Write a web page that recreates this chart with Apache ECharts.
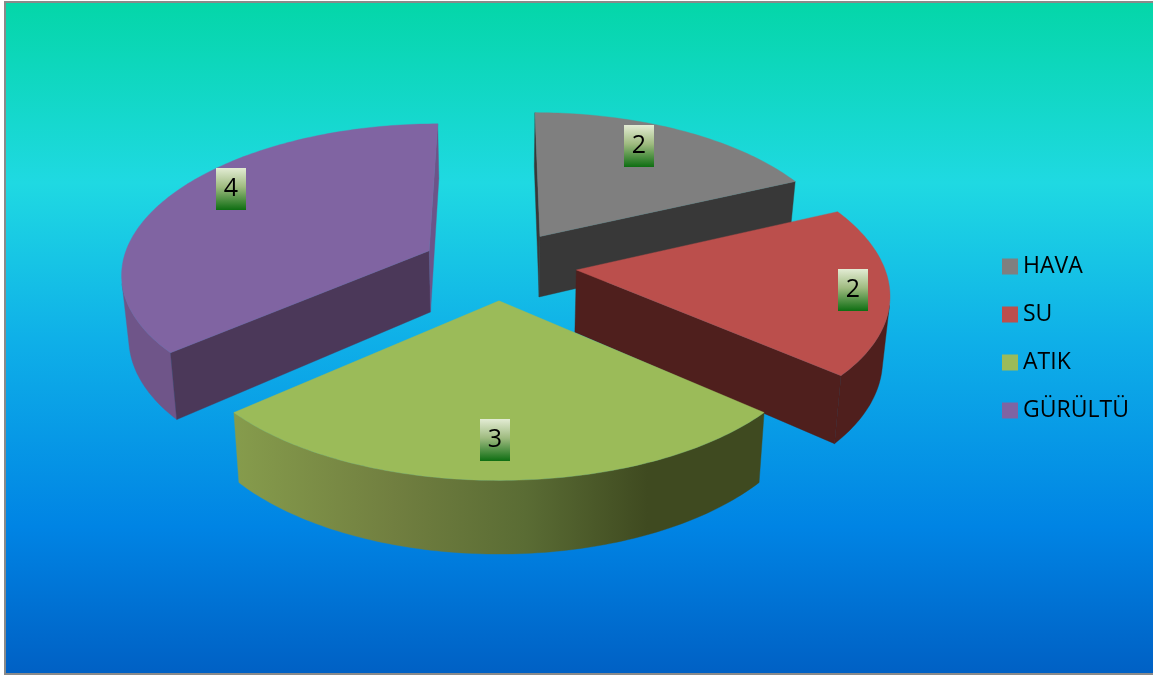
<!DOCTYPE html>
<html>
<head>
<meta charset="utf-8">
<script src="https://cdn.jsdelivr.net/npm/echarts@6/dist/echarts.min.js"></script>
<style>
  html, body { margin: 0; padding: 0; background: #fff; }
  #chart { width: 1153px; height: 675px; }
</style>
</head>
<body>
<div id="chart"></div>
<script>
// Values of the pie
const categories = ['HAVA', 'SU', 'ATIK', 'GÜRÜLTÜ'];
const values = [2, 2, 3, 4];

// Slice colours: top face, cut faces, rim
const topColors = ['#7f7f7f', '#bb4f4c', '#9bbb59', '#8064a2'];
const startCutColors = ['#383838', '#4f1f1d', '#3f4a20', '#4b3859'];
const endCutColors = ['#383838', '#4f1f1d', '#3f4a20', '#6c5489'];
const rimColors = ['#383838', '#4f1f1d', null, '#6f5589'];
const labelRadius = [0.803, 0.883, 0.8, 0.845];
const labelTurn = [-4.8, 0.6, 0.8, 8.3];
const stacking = [1, 2, 4, 3];

// Perspective camera for the tilted, exploded disc
const cam = { cx: 499, horizon: -880, span: 1145, k: 0.128, R: 307.4, widen: 1.09, explodeX: 0.253, explodeY: 0.237, depth: 62, taper: 0.981 };
const total = values.reduce((a, b) => a + b, 0);
const toRad = d => d * Math.PI / 180;

function project(x, y, down) {
  const s = 1 / (1 + cam.k * y);
  let sx = cam.cx + x * cam.R * Math.pow(s, cam.widen);
  let sy = cam.horizon + cam.span * s;
  if (down) {
    sx = cam.cx + (sx - cam.cx) * cam.taper;
    sy += cam.depth * s;
  }
  return [sx, sy];
}

function quadArea(p) {
  let a = 0;
  for (let i = 0; i < p.length; i++) {
    const q = p[(i + 1) % p.length];
    a += p[i][0] * q[1] - q[0] * p[i][1];
  }
  return a;
}

function sliceShapes(index, value) {
  const before = values.slice(0, index).reduce((a, b) => a + b, 0);
  const a0 = before / total * 360;
  const a1 = a0 + value / total * 360;
  const midDeg = (a0 + a1) / 2;
  const mid = toRad(midDeg);
  const ox = Math.sin(mid) * cam.explodeX;
  const oy = Math.cos(mid) * cam.explodeY;
  const rimPoint = (deg, down) => project(ox + Math.sin(toRad(deg)), oy + Math.cos(toRad(deg)), down);
  const tipTop = project(ox, oy, false);
  const tipBot = project(ox, oy, true);

  const children = [];
  const poly = (points, fill) => children.push({
    type: 'polygon',
    shape: { points },
    style: { fill, stroke: fill, lineWidth: 0.4 }
  });

  // Rim: only the runs of the arc that face the viewer
  const step = 1;
  let run = [];
  const flush = () => {
    if (run.length > 1) {
      const pts = run.map(d => rimPoint(d, false)).concat(run.slice().reverse().map(d => rimPoint(d, true)));
      const fill = rimColors[index] || new echarts.graphic.LinearGradient(0, 0, 1, 0, [
        { offset: 0, color: '#869c4c' },
        { offset: 0.3, color: '#717f40' },
        { offset: 0.55, color: '#5a6c34' },
        { offset: 0.78, color: '#3f4a20' },
        { offset: 1, color: '#3f4a20' }
      ]);
      poly(pts, fill);
    }
    run = [];
  };
  for (let d = a0; d < a1; d += step) {
    const e = Math.min(d + step, a1);
    const q = [rimPoint(d, false), rimPoint(e, false), rimPoint(e, true), rimPoint(d, true)];
    if (quadArea(q) < 0) {
      if (!run.length) run.push(d);
      run.push(e);
    } else {
      flush();
    }
  }
  flush();

  // Cut faces running from the tip to the rim
  const startFace = [rimPoint(a0, false), tipTop, tipBot, rimPoint(a0, true)];
  const endFace = [tipTop, rimPoint(a1, false), rimPoint(a1, true), tipBot];
  if (quadArea(startFace) > 0) poly(startFace, startCutColors[index]);
  if (quadArea(endFace) > 0) poly(endFace, endCutColors[index]);

  // Top face
  const top = [tipTop];
  for (let d = a0; d < a1; d += step) top.push(rimPoint(d, false));
  top.push(rimPoint(a1, false));
  poly(top, topColors[index]);

  // Value tag
  const r = labelRadius[index];
  const tagAngle = toRad(midDeg + labelTurn[index]);
  const at = project(ox + Math.sin(tagAngle) * r, oy + Math.cos(tagAngle) * r, false);
  children.push({
    type: 'rect',
    shape: { x: Math.round(at[0]) - 15, y: Math.round(at[1]) - 21, width: 30, height: 42 },
    style: {
      fill: new echarts.graphic.LinearGradient(0, 0, 0, 1, [
        { offset: 0, color: '#e3ecd4' },
        { offset: 0.45, color: '#9fbb80' },
        { offset: 1, color: '#0e6e12' }
      ])
    }
  });
  children.push({
    type: 'text',
    style: {
      x: Math.round(at[0]), y: Math.round(at[1]),
      text: String(value),
      fill: '#000',
      font: '25px "Open Sans"',
      textAlign: 'center',
      textVerticalAlign: 'middle'
    }
  });
  return { type: 'group', children };
}

const chart = echarts.init(document.getElementById('chart'));
chart.setOption({
  animation: false,
  graphic: [{
    type: 'rect',
    silent: true,
    z: -10,
    shape: { x: 5, y: 2, width: 1160, height: 672 },
    style: {
      stroke: '#8a8a8a',
      lineWidth: 2,
      fill: new echarts.graphic.LinearGradient(0, 0, 0, 1, [
        { offset: 0, color: '#04d6a8' },
        { offset: 0.27, color: '#1fd9e2' },
        { offset: 0.5, color: '#0fb0e8' },
        { offset: 0.78, color: '#0084e4' },
        { offset: 1, color: '#0060c4' }
      ])
    }
  }],
  legend: {
    orient: 'vertical',
    left: 1002,
    top: 255,
    padding: 0,
    icon: 'rect',
    itemWidth: 16,
    itemHeight: 16,
    itemGap: 25,
    data: categories,
    textStyle: { color: '#000', fontFamily: '"Open Sans"', fontSize: 23 }
  },
  series: categories.map((name, i) => ({
    type: 'custom',
    name,
    coordinateSystem: 'none',
    z: stacking[i],
    itemStyle: { color: topColors[i] },
    data: [[values[i]]],
    renderItem: (params, api) => sliceShapes(i, api.value(0))
  }))
});
</script>
</body>
</html>
